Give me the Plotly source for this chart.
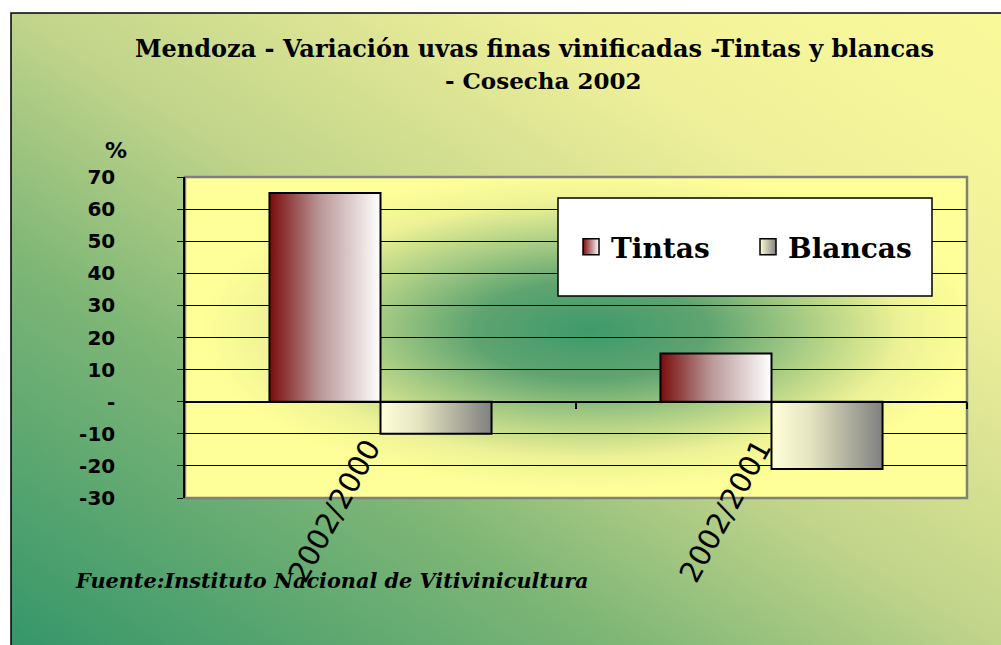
import base64
import plotly.graph_objects as go

# ---------------- data ----------------
categories = ["2002/2000", "2002/2001"]
series_names = ["Tintas", "Blancas"]
tintas = [65, 15]
blancas = [-10, -21]
y_tickvals = [-30, -20, -10, 0, 10, 20, 30, 40, 50, 60, 70]
y_ticktext = ["-30", "-20", "-10", "-", "10", "20", "30", "40", "50", "60", "70"]

title_line1 = "Mendoza - Variación uvas finas vinificadas -Tintas y blancas"
title_line2 = "- Cosecha 2002"
source_text = "Fuente:Instituto Nacional de Vitivinicultura"

# ---------------- style ----------------
W, H = 1001, 645
PL, PT, PR, PB = 185, 177, 967, 498  # plot area in screen px
ML, MT = PL, PT
MR, MB = W - PR, H - PB
PW, PH = PR - PL, PB - PT


def px2x(px):
    return (px - PL) / PW


def px2y(py):
    return (PB - py) / PH


def svg_uri(svg):
    return "data:image/svg+xml;base64," + base64.b64encode(svg.encode("utf-8")).decode()


outer_svg = (
    "<svg xmlns='http://www.w3.org/2000/svg' width='1000' height='640' viewBox='0 0 1000 640' "
    "preserveAspectRatio='none'><defs><linearGradient id='g' x1='0' y1='1' x2='1' y2='0'>"
    "<stop offset='0' stop-color='#35966a'/>"
    "<stop offset='0.31' stop-color='#7eb676'/>"
    "<stop offset='0.5' stop-color='#c0d48a'/>"
    "<stop offset='0.77' stop-color='#f0f09a'/>"
    "<stop offset='1' stop-color='#fafa9a'/>"
    "</linearGradient></defs><rect width='1000' height='640' fill='url(#g)'/></svg>"
)
plot_svg = (
    "<svg xmlns='http://www.w3.org/2000/svg' width='800' height='320' viewBox='0 0 800 320' "
    "preserveAspectRatio='none'><defs><radialGradient id='r' cx='0.518' cy='0.477' r='0.5' "
    "fx='0.518' fy='0.477'>"
    "<stop offset='0' stop-color='#3e9a6b'/>"
    "<stop offset='0.3' stop-color='#5ea470'/>"
    "<stop offset='0.55' stop-color='#a8cc84'/>"
    "<stop offset='0.8' stop-color='#eef296'/>"
    "<stop offset='1' stop-color='#ffff99'/>"
    "</radialGradient></defs><rect width='800' height='320' fill='url(#r)'/></svg>"
)

series_scales = {
    "Tintas": [[0, "#7a0c0c"], [0.45, "#b89696"], [1, "#ffffff"]],
    "Blancas": [[0, "#ffffd8"], [0.35, "#e4e4c0"], [1, "#808080"]],
}
legend_colors = {"Tintas": ("#7a0c0c", "#ffffff"), "Blancas": ("#ffffd0", "#808080")}
BAR_W = 0.284

fig = go.Figure()

values = {"Tintas": tintas, "Blancas": blancas}
for j, name in enumerate(series_names):
    for i, cat in enumerate(categories):
        v = values[name][i]
        x0 = i - BAR_W + j * BAR_W
        x1 = x0 + BAR_W
        fig.add_trace(go.Scatter(
            x=[x0, x0, x1, x1, x0], y=[0, v, v, 0, 0],
            mode="lines", fill="toself",
            fillgradient=dict(type="horizontal", colorscale=series_scales[name]),
            line=dict(color="black", width=2),
            showlegend=False, name=name,
            hovertemplate=f"{name} {cat}: {v}<extra></extra>",
        ))

for name in series_names:
    c1, c2 = legend_colors[name]
    fig.add_trace(go.Scatter(
        x=[None], y=[None], mode="markers", name=name,
        marker=dict(symbol="square", size=16, color=c1,
                    gradient=dict(type="horizontal", color=c2),
                    line=dict(color="black", width=1.5)),
    ))

fig.update_layout(
    width=W, height=H,
    margin=dict(l=ML, r=MR, t=MT, b=MB, autoexpand=False),
    paper_bgcolor="white",
    plot_bgcolor="rgba(0,0,0,0)",
    showlegend=True,
    legend=dict(
        orientation="h", x=px2x(571), y=px2y(247), xanchor="left", yanchor="middle",
        bgcolor="rgba(0,0,0,0)", borderwidth=0,
        font=dict(family="DejaVu Serif", size=28, color="black", weight="bold"),
        entrywidth=132, entrywidthmode="pixels", itemsizing="trace",
    ),
    images=[
        dict(source=svg_uri(outer_svg), xref="paper", yref="paper",
             x=px2x(11), y=px2y(13), sizex=(1003 - 11) / PW, sizey=(647 - 13) / PH,
             xanchor="left", yanchor="top", sizing="stretch", layer="below"),
        dict(source=svg_uri(plot_svg), xref="paper", yref="paper",
             x=0, y=1, sizex=1, sizey=1,
             xanchor="left", yanchor="top", sizing="stretch", layer="below"),
    ],
    shapes=[
        dict(type="rect", xref="paper", yref="paper", x0=px2x(11), y0=px2y(660),
             x1=px2x(1020), y1=px2y(13), line=dict(color="black", width=1.5), layer="below"),
        dict(type="rect", xref="paper", yref="paper", x0=0, y0=0, x1=1, y1=1,
             line=dict(color="#808080", width=2.5), layer="below"),
        dict(type="rect", xref="paper", yref="paper", x0=px2x(558), y0=px2y(296),
             x1=px2x(932), y1=px2y(198), fillcolor="white",
             line=dict(color="black", width=1.5), layer="above"),
    ],
    xaxis=dict(
        range=[-0.5, 1.5], tickvals=[0, 1], ticktext=categories,
        tickangle=-61, anchor="free", position=0.3,
        showline=True, linecolor="black", linewidth=1.5,
        showgrid=False, zeroline=False, ticks="",
        tickfont=dict(family="DejaVu Sans", size=29, color="black"),
        ticklabelstandoff=17, ticklabelshift=-12,
        minor=dict(tickvals=[0.5, 1.5], ticks="outside", ticklen=7,
                   tickcolor="black", tickwidth=1.5, showgrid=False),
    ),
    yaxis=dict(
        range=[-30, 70], tickvals=y_tickvals, ticktext=y_ticktext,
        showline=True, linecolor="black", linewidth=1.5,
        showgrid=True, gridcolor="black", gridwidth=1,
        zeroline=False, ticks="outside", ticklen=6, tickcolor="black",
        tickfont=dict(family="DejaVu Sans", size=20, color="black", weight="bold"),
        ticklabelstandoff=58,
    ),
    annotations=[
        dict(text=title_line1, xref="paper", yref="paper", x=px2x(534), y=px2y(48),
             xanchor="center", yanchor="middle", showarrow=False,
             font=dict(family="DejaVu Serif", size=24, color="black", weight="bold")),
        dict(text=title_line2, xref="paper", yref="paper", x=px2x(543), y=px2y(81),
             xanchor="center", yanchor="middle", showarrow=False,
             font=dict(family="DejaVu Serif", size=23, color="black", weight="bold")),
        dict(text="%", xref="paper", yref="paper", x=px2x(116), y=px2y(150),
             xanchor="center", yanchor="middle", showarrow=False,
             font=dict(family="DejaVu Sans", size=22, color="black", weight="bold")),
        dict(text=source_text, xref="paper", yref="paper", x=px2x(73), y=px2y(580),
             xanchor="left", yanchor="middle", showarrow=False,
             font=dict(family="DejaVu Serif", size=20.8, color="black", weight="bold",
                       style="italic")),
    ],
)

fig.write_html(
    "out.html",
    config={"displayModeBar": False},
    post_script="document.body.style.margin='0';document.body.style.overflow='hidden';",
)
